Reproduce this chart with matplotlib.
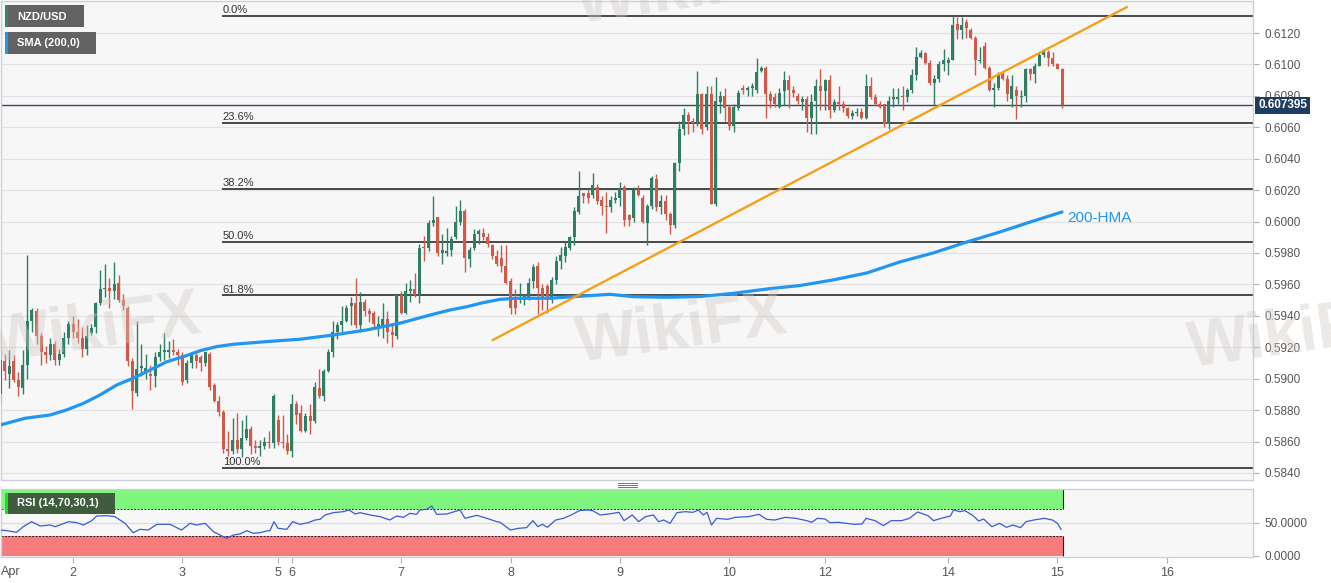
import matplotlib
matplotlib.use("Agg")
import matplotlib.pyplot as plt
from matplotlib.transforms import blended_transform_factory

plt.rcParams['font.family'] = ['Liberation Sans', 'DejaVu Sans']

# hourly NZD/USD candles; x = trading hour counted from Apr 1 00:00 (weekend removed)
hours = list(range(8, 242))

opens = [
    .5890, .5911, .5903, .5911, .5899, .5894, .5909, .5937, .5943, .5927, .5917, .5915,
    .5922, .5912, .5916, .5926, .5935, .5930, .5926, .5919, .5929, .5933, .5948, .5957,
    .5958, .5956, .5961, .5950, .5945, .5911, .5891, .5907, .5904, .5903, .5902, .5914,
    .5917, .5917, .5918, .5917, .5915, .5899, .5910, .5915, .5914, .5910, .5916, .5896,
    .5886, .5879, .5855, .5854, .5861, .5855, .5862, .5868, .5857, .5856, .5857, .5860,
    .5859, .5874, .5860, .5859, .5854, .5884, .5878, .5867, .5876, .5873, .5894, .5889,
    .5905, .5917, .5930, .5934, .5937, .5946, .5948, .5934, .5949, .5943, .5942, .5933,
    .5932, .5938, .5930, .5927, .5953, .5942, .5956, .5957, .5953, .5984, .5983, .5999,
    .6003, .5980, .5980, .5982, .5990, .6000, .6007, .5976, .5983, .5992, .5993, .5990,
    .5985, .5978, .5977, .5972, .5962, .5951, .5950, .5950, .5951, .5962, .5972, .5958,
    .5959, .5950, .5963, .5975, .5978, .5983, .5990, .6006, .6018, .6018, .6017, .6022,
    .6014, .6010, .6009, .6014, .6015, .6022, .6004, .6002, .6020, .6015, .5999, .6010,
    .6027, .6009, .6013, .6005, .5998, .6037, .6059, .6068, .6064, .6063, .6081, .6060,
    .6081, .6011, .6076, .6080, .6073, .6061, .6072, .6085, .6084, .6085, .6084, .6096,
    .6098, .6081, .6079, .6073, .6083, .6090, .6084, .6080, .6076, .6078, .6066, .6077,
    .6086, .6083, .6090, .6071, .6076, .6075, .6072, .6067, .6069, .6070, .6066, .6086,
    .6079, .6075, .6075, .6062, .6078, .6078, .6080, .6079, .6084, .6093, .6105, .6107,
    .6101, .6088, .6091, .6100, .6101, .6103, .6126, .6122, .6127, .6122, .6117, .6102,
    .6112, .6098, .6084, .6085, .6094, .6091, .6078, .6084, .6079, .6080, .6097, .6094,
    .6099, .6106, .6108, .6104, .6100, .6097,
]
highs = [
    .5918, .5916, .5918, .5915, .5904, .5918, .5979, .5945, .5945, .5929, .5921, .5926,
    .5924, .5919, .5930, .5937, .5940, .5938, .5933, .5934, .5935, .5949, .5969, .5973,
    .5964, .5974, .5966, .5954, .5946, .5913, .5937, .5922, .5916, .5909, .5917, .5922,
    .5929, .5924, .5925, .5919, .5917, .5912, .5916, .5917, .5915, .5917, .5917, .5897,
    .5889, .5880, .5867, .5875, .5878, .5874, .5877, .5870, .5861, .5861, .5863, .5867,
    .5890, .5877, .5877, .5865, .5890, .5886, .5883, .5878, .5884, .5898, .5906, .5906,
    .5919, .5937, .5936, .5946, .5947, .5952, .5964, .5955, .5951, .5945, .5943, .5940,
    .5948, .5943, .5935, .5953, .5956, .5961, .5963, .5967, .5986, .5991, .6001, .6016,
    .6003, .5992, .5996, .5991, .6010, .6014, .6008, .5984, .5995, .5995, .5996, .5993,
    .5986, .5982, .5985, .5985, .5964, .5957, .5961, .5954, .5964, .5973, .5974, .5960,
    .5960, .5965, .5978, .5984, .5987, .5991, .6009, .6032, .6018, .6020, .6031, .6024,
    .6016, .6019, .6016, .6019, .6025, .6023, .6005, .6022, .6023, .6017, .6011, .6029,
    .6030, .6017, .6017, .6006, .6038, .6064, .6072, .6070, .6066, .6096, .6082, .6086,
    .6086, .6092, .6083, .6085, .6074, .6075, .6084, .6087, .6086, .6088, .6104, .6099,
    .6099, .6083, .6082, .6085, .6096, .6093, .6086, .6082, .6080, .6080, .6081, .6091,
    .6097, .6091, .6093, .6078, .6086, .6077, .6073, .6071, .6072, .6072, .6094, .6092,
    .6081, .6077, .6075, .6080, .6085, .6085, .6086, .6085, .6097, .6111, .6109, .6108,
    .6103, .6093, .6102, .6110, .6105, .6131, .6130, .6130, .6129, .6123, .6118, .6111,
    .6114, .6099, .6088, .6095, .6096, .6093, .6093, .6086, .6084, .6098, .6098, .6101,
    .6107, .6110, .6109, .6108, .6101, .6098,
]
lows = [
    .5885, .5899, .5894, .5898, .5889, .5890, .5900, .5930, .5922, .5909, .5910, .5912,
    .5909, .5909, .5914, .5922, .5926, .5923, .5914, .5915, .5928, .5929, .5947, .5952,
    .5945, .5951, .5949, .5944, .5908, .5881, .5889, .5902, .5900, .5893, .5895, .5911,
    .5912, .5913, .5915, .5909, .5896, .5897, .5907, .5907, .5905, .5908, .5893, .5885,
    .5876, .5853, .5851, .5852, .5853, .5850, .5861, .5852, .5853, .5851, .5855, .5856,
    .5856, .5858, .5856, .5852, .5850, .5871, .5866, .5866, .5865, .5872, .5888, .5886,
    .5904, .5914, .5925, .5930, .5936, .5934, .5932, .5930, .5940, .5936, .5933, .5927,
    .5926, .5923, .5920, .5925, .5941, .5941, .5949, .5952, .5948, .5975, .5981, .5997,
    .5978, .5973, .5978, .5978, .5989, .5998, .5968, .5971, .5982, .5986, .5988, .5984,
    .5976, .5972, .5968, .5960, .5941, .5941, .5948, .5947, .5950, .5958, .5941, .5944,
    .5942, .5948, .5960, .5970, .5974, .5982, .5985, .6005, .6012, .6012, .6015, .6011,
    .6004, .5993, .6006, .6012, .6010, .5997, .5997, .6000, .6016, .5999, .5985, .6008,
    .6007, .6005, .6001, .5992, .5996, .6032, .6055, .6056, .6057, .6061, .6056, .6058,
    .6011, .6010, .6069, .6064, .6058, .6057, .6071, .6081, .6080, .6080, .6082, .6095,
    .6066, .6072, .6073, .6072, .6074, .6072, .6079, .6075, .6071, .6057, .6056, .6056,
    .6071, .6071, .6066, .6070, .6071, .6070, .6066, .6065, .6067, .6065, .6065, .6078,
    .6074, .6072, .6060, .6059, .6073, .6075, .6071, .6076, .6082, .6090, .6104, .6100,
    .6087, .6074, .6089, .6096, .6093, .6103, .6116, .6116, .6117, .6116, .6093, .6101,
    .6097, .6083, .6073, .6084, .6090, .6077, .6073, .6065, .6073, .6076, .6090, .6088,
    .6099, .6105, .6099, .6099, .6097, .6072,
]
closes = [
    .5912, .5905, .5908, .5899, .5895, .5909, .5937, .5944, .5927, .5917, .5915, .5922,
    .5912, .5916, .5926, .5935, .5930, .5926, .5919, .5927, .5932, .5948, .5957, .5958,
    .5956, .5960, .5950, .5946, .5911, .5892, .5906, .5908, .5907, .5902, .5914, .5917,
    .5918, .5918, .5917, .5915, .5898, .5910, .5915, .5911, .5910, .5917, .5895, .5886,
    .5879, .5855, .5854, .5861, .5855, .5862, .5868, .5857, .5856, .5857, .5860, .5859,
    .5889, .5860, .5859, .5854, .5884, .5877, .5867, .5876, .5873, .5895, .5889, .5905,
    .5917, .5930, .5934, .5937, .5945, .5948, .5934, .5949, .5943, .5941, .5935, .5935,
    .5938, .5930, .5928, .5953, .5942, .5956, .5957, .5953, .5983, .5983, .5999, .6001,
    .5980, .5982, .5981, .5989, .6000, .6007, .5977, .5982, .5992, .5994, .5990, .5986,
    .5978, .5973, .5972, .5961, .5945, .5945, .5951, .5953, .5961, .5971, .5958, .5951,
    .5950, .5963, .5975, .5979, .5984, .5990, .6007, .6016, .6016, .6015, .6023, .6013,
    .6010, .6009, .6014, .6015, .6021, .6001, .6001, .6020, .6017, .6000, .6010, .6028,
    .6009, .6013, .6005, .5998, .6037, .6059, .6068, .6064, .6063, .6081, .6059, .6081,
    .6011, .6077, .6080, .6072, .6061, .6073, .6082, .6084, .6085, .6086, .6095, .6098,
    .6081, .6077, .6075, .6082, .6090, .6084, .6082, .6077, .6078, .6066, .6076, .6086,
    .6083, .6090, .6071, .6076, .6075, .6072, .6067, .6069, .6070, .6066, .6086, .6079,
    .6075, .6073, .6062, .6077, .6079, .6079, .6079, .6084, .6093, .6105, .6107, .6101,
    .6088, .6091, .6100, .6103, .6103, .6125, .6122, .6125, .6123, .6117, .6103, .6103,
    .6098, .6084, .6085, .6093, .6091, .6081, .6086, .6080, .6080, .6097, .6094, .6099,
    .6106, .6108, .6104, .6100, .6097, .6074,
]
assert len(opens) == len(highs) == len(lows) == len(closes) == len(hours)

last_price = 0.607395

# 200-period moving average (HMA label on chart)
sma_hours = [8.0, 13.5, 19.0, 22.6, 26.3, 29.9, 33.6, 37.2, 40.9, 44.6, 48.2, 51.9, 55.5,
             59.2, 66.5, 73.8, 81.1, 88.4, 95.7, 103.0, 106.7, 110.4, 114.0, 117.7, 121.3,
             128.7, 135.9, 141.8, 146.9, 154.3, 161.6, 168.8, 176.3, 183.5, 190.7, 198.2,
             205.4, 212.7, 220.1, 227.4, 234.0, 241.0]
sma_values = [.58705, .58748, .58769, .58801, .58843, .58896, .58960, .59003, .59055, .59108,
              .59140, .59178, .59204, .59219, .59236, .59251, .59278, .59310, .59353, .59410,
              .59437, .59458, .59484, .59505, .59512, .59512, .59526, .59537, .59522, .59518,
              .59523, .59543, .59571, .59593, .59628, .59673, .59743, .59800, .59870, .59934,
              .59997, .60061]

# rising support line
trend_hours = [116.1, 255.2]
trend_prices = [0.59246, 0.61365]

# Fibonacci retracement of the 0.5843 - 0.6131 swing
fib_high = 0.61308
fib_low = 0.58432
fib_ratios = [0.0, 0.236, 0.382, 0.5, 0.618, 1.0]
fib_start = 56.7

# RSI(14)
rsi_hours = [8.0, 9.5, 11.6, 13.1, 14.9, 16.8, 19.0, 20.1, 21.5, 23.0, 24.8, 26.3, 28.1, 29.2,
             31.4, 33.2, 35.4, 37.2, 38.7, 40.5, 42.4, 45.3, 47.8, 49.7, 51.1, 53.0, 54.8,
             57.7, 59.2, 60.6, 62.1, 63.6, 65.0, 66.5, 67.2, 68.1, 69.0, 70.9, 72.2, 73.8,
             75.6, 77.1, 78.2, 79.3, 81.1, 83.3, 84.6, 85.9, 87.0, 89.2, 91.4, 93.5, 95.0,
             96.5, 97.9, 99.4, 100.1, 101.6, 102.7, 103.8, 106.0, 108.9, 110.0, 112.6, 114.8,
             117.0, 117.7, 120.0, 121.7, 123.5, 124.9, 126.0, 127.0, 128.1, 129.9, 131.6,
             133.3, 135.1, 136.8, 138.0, 139.7, 141.5, 143.8, 144.9, 146.7, 148.1, 149.6,
             151.3, 152.5, 153.6, 155.0, 156.5, 158.3, 160.0, 161.2, 162.3, 163.1, 164.1,
             165.2, 167.6, 169.3, 172.2, 174.5, 176.2, 178.0, 180.3, 182.6, 185.0, 186.1,
             187.3, 189.0, 190.1, 191.9, 193.6, 195.4, 197.1, 198.0, 200.0, 201.8, 203.5,
             205.8, 207.5, 209.3, 211.6, 212.8, 214.5, 216.5, 217.2, 218.6, 219.7, 221.5,
             222.7, 223.8, 225.6, 227.3, 228.8, 230.2, 231.9, 233.1, 234.8, 237.1, 238.9,
             240.0, 240.8]
rsi_values = [39, 38, 35.5, 44, 51.5, 45, 46.5, 44, 47.5, 51.5, 50, 46.5, 53, 60,
              60.5, 59, 49, 35, 40, 39, 47.5, 47.5, 39, 49, 46.5, 49, 36.5,
              26.5, 31.5, 33, 38, 34, 35, 37.5, 38, 51.5, 41.5, 40, 51.5, 47.5,
              50, 54, 55, 61.5, 65, 66.5, 69, 63, 65, 61.5, 59, 54, 60,
              58, 64, 62.5, 69, 70, 75, 62.5, 63, 69, 56.5, 61, 56.5,
              51.5, 50.5, 39, 41.5, 42.5, 53, 44, 47.5, 43, 54, 56.5,
              61.5, 68, 69, 68, 61.5, 63, 65.5, 53, 61.5, 51.5, 59,
              61.5, 51.5, 54, 49, 65, 66.5, 65.5, 69, 61.5, 65.5, 46.5,
              56.5, 55, 58, 59, 62.5, 55, 54, 58, 56.5, 53, 50.5,
              56.5, 55.5, 50, 50.5, 49, 47.5, 48, 56.5, 53, 45.5, 53,
              53, 56.5, 66, 60.5, 53, 56.5, 60, 69, 66.5, 68, 60.5,
              52.5, 55.5, 44, 49, 43, 46.5, 42.5, 51.5, 54, 56.5, 54,
              49, 40]

tick_hours = [24, 48, 69, 72, 96, 120, 144, 168, 189, 216, 240, 264]
tick_labels = ['2', '3', '5', '6', '7', '8', '9', '10', '12', '14', '15', '16']
price_ticks = [0.5840, 0.5860, 0.5880, 0.5900, 0.5920, 0.5940, 0.5960, 0.5980,
               0.6000, 0.6020, 0.6040, 0.6060, 0.6080, 0.6100, 0.6120]

green = '#2e7f66'
red = '#d0594a'
grey_txt = '#555555'
border = '#cdd0da'

W, H = 1331, 583
fig = plt.figure(figsize=(W / 100, H / 100), dpi=100)
fig.patch.set_facecolor('white')
ax = fig.add_axes([1 / W, 1 - 480 / H, 1252 / W, 479 / H])
ax2 = fig.add_axes([1 / W, 1 - 557 / H, 1252 / W, 68 / H], sharex=ax)

x_left, x_right = 8.2, 282.9
for a in (ax, ax2):
    a.set_facecolor('#f7f7f7')
    for s in a.spines.values():
        s.set_color(border)
        s.set_linewidth(1)

# ---- main price panel ----
ax.set_xlim(x_left, x_right)
ax.set_ylim(0.58355, 0.61404)
ax.set_yticks(price_ticks)
ax.grid(axis='y', color='#e2e2e2', lw=0.9, zorder=0)
ax.yaxis.tick_right()
ax.set_yticklabels([f'{p:.4f}' for p in price_ticks])
ax.tick_params(axis='y', length=4, color='#b0b0b0', labelcolor=grey_txt,
               labelsize=8.5, pad=4)
ax.tick_params(axis='x', length=0, labelbottom=False)

# faint watermark
for (fx, fy) in [(0.43, 0.38), (-0.01, 0.38), (0.89, 0.37), (0.43, 0.96)]:
    fig.text(fx, fy, 'WikiFX', fontsize=46, weight='bold', color='#cfc9c4', alpha=0.4,
             rotation=8, zorder=0)

colors = [green if c >= o else red for o, c in zip(opens, closes)]
bottoms = [min(o, c) for o, c in zip(opens, closes)]
heights = [max(abs(c - o), 0.00003) for o, c in zip(opens, closes)]
wick_lo = [min(l, o, c) for l, o, c in zip(lows, opens, closes)]
wick_hi = [max(h, o, c) for h, o, c in zip(highs, opens, closes)]
ax.vlines(hours, wick_lo, wick_hi, colors=colors, lw=1, zorder=3)
ax.bar(hours, heights, bottom=bottoms, width=0.66, color=colors, lw=0, zorder=4)

ax.plot(sma_hours, sma_values, color='#2196f3', lw=2.3, zorder=5,
        solid_capstyle='round', solid_joinstyle='round')
ax.text(242.2, 0.60020, '200-HMA', color='#2196f3', fontsize=11, va='center', zorder=6)

ax.plot(trend_hours, trend_prices, color='#f5a01a', lw=1.7, zorder=6)

fib_span = fib_high - fib_low
for r in fib_ratios:
    level = fib_high - r * fib_span
    ax.hlines(level, fib_start, x_right, color='#1a1a1a', lw=1.1, zorder=2)
    ax.text(fib_start + 0.15, level + 0.00005, f'{r * 100:.1f}%', fontsize=8,
            color='#333333', va='bottom', ha='left', zorder=7)

ax.axhline(last_price, color='#2f4a6a', lw=1.0, zorder=2)
trans = blended_transform_factory(ax.transAxes, ax.transData)
ax.text(1.004, last_price, f'{last_price:.6f}', transform=trans, fontsize=8.5,
        weight='bold', color='white', va='center', ha='left', zorder=10,
        bbox=dict(boxstyle='square,pad=0.22', fc='#1f3c62', ec='none'), clip_on=False)

# legend tags
def tag(y_px, w_px, label, stripe):
    fig.patches.append(plt.Rectangle((5 / W, 1 - (y_px + 22) / H), w_px / W, 22 / H,
                                     transform=fig.transFigure, fc='#626262', ec='none',
                                     zorder=20))
    fig.patches.append(plt.Rectangle((5 / W, 1 - (y_px + 22) / H), 2.5 / W, 22 / H,
                                     transform=fig.transFigure, fc=stripe, ec='none',
                                     zorder=21))
    fig.text(17 / W, 1 - (y_px + 11.5) / H, label, color='white', fontsize=8,
             weight='bold', va='center', ha='left', zorder=22)

tag(5, 79, 'NZD/USD', '#2e8b6e')
tag(32, 91, 'SMA (200,0)', '#2196f3')

# ---- RSI panel ----
ax2.set_ylim(-1.5, 100.5)
ax2.axhline(50, color='#dcdcdc', lw=0.9, zorder=0)
band_end = 241.2
ax2.fill_between([x_left, band_end], 70, 100, color='#80f57e', lw=0, zorder=1)
ax2.fill_between([x_left, band_end], 0, 30, color='#f87b7b', lw=0, zorder=1)
ax2.hlines([70, 30], x_left, band_end, colors='#222222', lw=0.7, linestyles=(0, (2, 1.5)),
           zorder=2)
ax2.vlines(band_end, 70, 100, color='#222222', lw=0.8, zorder=2)
ax2.vlines(band_end, 0, 30, color='#222222', lw=0.8, zorder=2)
ax2.plot(rsi_hours, rsi_values, color='#3b5bd6', lw=0.9, zorder=3)

ax2.yaxis.tick_right()
ax2.set_yticks([0, 50])
ax2.set_yticklabels(['0.0000', '50.0000'])
ax2.tick_params(axis='y', length=4, color='#b0b0b0', labelcolor=grey_txt, labelsize=8.5, pad=4)
ax2.set_xticks(tick_hours)
ax2.set_xticklabels(tick_labels)
ax2.tick_params(axis='x', length=4, color='#b0b0b0', labelcolor=grey_txt, labelsize=9, pad=3)
ax2.text(0.0, -0.13, 'Apr', transform=ax2.transAxes, fontsize=9, color=grey_txt,
         ha='left', va='top')

fig.patches.append(plt.Rectangle((7 / W, 1 - 514 / H), 108 / W, 21 / H, transform=fig.transFigure,
                                 fc='#3f5c3f', ec='none', zorder=20))
fig.patches.append(plt.Rectangle((5 / W, 1 - 514 / H), 2.5 / W, 21 / H, transform=fig.transFigure,
                                 fc='#22dd22', ec='none', zorder=21))
fig.text(17 / W, 1 - 503.5 / H, 'RSI (14,70,30,1)', color='white', fontsize=8, weight='bold',
         va='center', ha='left', zorder=22)

# panel splitter handle
for dy in (482.5, 484.5, 486.5):
    fig.add_artist(plt.Line2D([618 / W, 637 / W], [1 - dy / H, 1 - dy / H], color='#777777', lw=0.7))

fig.savefig('out.png', dpi=100)
